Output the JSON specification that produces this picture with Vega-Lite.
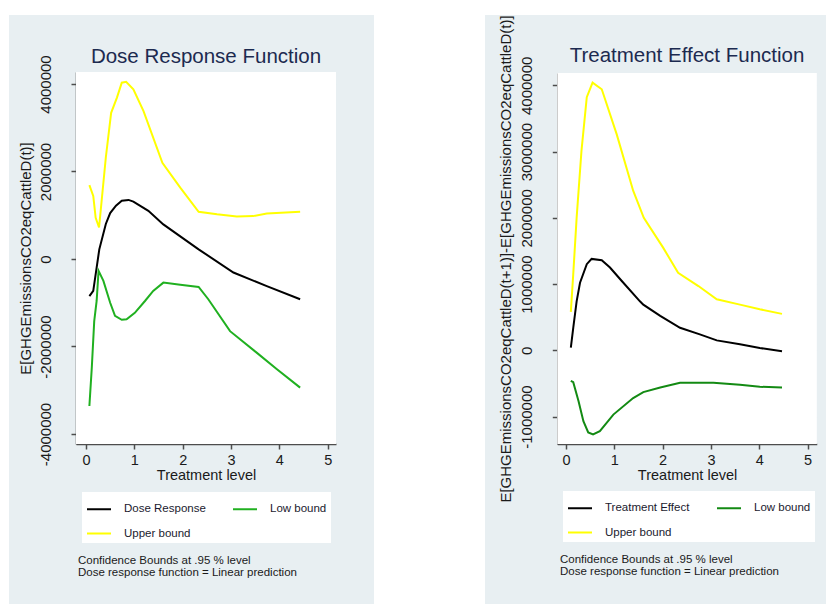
{
  "$schema": "https://vega.github.io/schema/vega-lite/v6.json",
  "padding": {"left": 9, "top": 14, "right": 0, "bottom": 0},
  "bounds": "flush",
  "spacing": 111,
  "background": "white",
  "config": {
    "font": "Liberation Sans",
    "view": {"stroke": null},
    "axis": {
      "zindex": 1,
      "domainColor": "#4d4d4d",
      "domainWidth": 1.5,
      "tickColor": "#4d4d4d",
      "tickWidth": 1.5,
      "tickSize": 5,
      "labelColor": "#1a1a1a",
      "labelFont": "Liberation Sans",
      "labelFontSize": 15,
      "labelFlush": false,
      "labelOverlap": false,
      "titleFont": "Liberation Sans",
      "titleFontWeight": "normal",
      "titleColor": "#1a1a1a",
      "gridColor": "#e4eef0",
      "gridWidth": 1
    },
    "legend": {
      "orient": "none",
      "direction": "horizontal",
      "columns": 2,
      "fillColor": "white",
      "padding": 4,
      "symbolType": "stroke",
      "symbolSize": 576,
      "symbolStrokeWidth": 2,
      "labelFont": "Liberation Sans",
      "labelFontSize": 11.5,
      "labelColor": "#1a1a2e",
      "labelOffset": 12,
      "columnPadding": 23,
      "rowPadding": 5.5
    }
  },
  "resolve": {
    "scale": {"color": "independent", "x": "independent", "y": "independent"},
    "legend": {"color": "independent"},
    "axis": {"x": "independent", "y": "independent"}
  },
  "datasets": {
    "dose": [
      {"t": 0.07, "v": -850000, "s": "Dose Response"},
      {"t": 0.15, "v": -730000, "s": "Dose Response"},
      {"t": 0.275, "v": 220000, "s": "Dose Response"},
      {"t": 0.41, "v": 800000, "s": "Dose Response"},
      {"t": 0.5, "v": 1050000, "s": "Dose Response"},
      {"t": 0.62, "v": 1220000, "s": "Dose Response"},
      {"t": 0.74, "v": 1330000, "s": "Dose Response"},
      {"t": 0.88, "v": 1350000, "s": "Dose Response"},
      {"t": 0.98, "v": 1310000, "s": "Dose Response"},
      {"t": 1.29, "v": 1100000, "s": "Dose Response"},
      {"t": 1.6, "v": 790000, "s": "Dose Response"},
      {"t": 2.33, "v": 220000, "s": "Dose Response"},
      {"t": 3.05, "v": -310000, "s": "Dose Response"},
      {"t": 3.74, "v": -620000, "s": "Dose Response"},
      {"t": 4.43, "v": -920000, "s": "Dose Response"},
      {"t": 0.07, "v": 1690000, "s": "Upper bound"},
      {"t": 0.15, "v": 1440000, "s": "Upper bound"},
      {"t": 0.2, "v": 940000, "s": "Upper bound"},
      {"t": 0.27, "v": 720000, "s": "Upper bound"},
      {"t": 0.41, "v": 2320000, "s": "Upper bound"},
      {"t": 0.52, "v": 3340000, "s": "Upper bound"},
      {"t": 0.64, "v": 3690000, "s": "Upper bound"},
      {"t": 0.74, "v": 4030000, "s": "Upper bound"},
      {"t": 0.83, "v": 4050000, "s": "Upper bound"},
      {"t": 0.98, "v": 3880000, "s": "Upper bound"},
      {"t": 1.19, "v": 3380000, "s": "Upper bound"},
      {"t": 1.58, "v": 2200000, "s": "Upper bound"},
      {"t": 1.95, "v": 1630000, "s": "Upper bound"},
      {"t": 2.33, "v": 1080000, "s": "Upper bound"},
      {"t": 2.71, "v": 1020000, "s": "Upper bound"},
      {"t": 3.12, "v": 970000, "s": "Upper bound"},
      {"t": 3.46, "v": 980000, "s": "Upper bound"},
      {"t": 3.74, "v": 1040000, "s": "Upper bound"},
      {"t": 4.43, "v": 1080000, "s": "Upper bound"},
      {"t": 0.07, "v": -3360000, "s": "Low bound"},
      {"t": 0.12, "v": -2480000, "s": "Low bound"},
      {"t": 0.17, "v": -1420000, "s": "Low bound"},
      {"t": 0.22, "v": -960000, "s": "Low bound"},
      {"t": 0.26, "v": -270000, "s": "Low bound"},
      {"t": 0.36, "v": -500000, "s": "Low bound"},
      {"t": 0.5, "v": -1000000, "s": "Low bound"},
      {"t": 0.6, "v": -1300000, "s": "Low bound"},
      {"t": 0.74, "v": -1390000, "s": "Low bound"},
      {"t": 0.84, "v": -1380000, "s": "Low bound"},
      {"t": 1.01, "v": -1230000, "s": "Low bound"},
      {"t": 1.22, "v": -960000, "s": "Low bound"},
      {"t": 1.39, "v": -730000, "s": "Low bound"},
      {"t": 1.6, "v": -540000, "s": "Low bound"},
      {"t": 1.95, "v": -590000, "s": "Low bound"},
      {"t": 2.33, "v": -640000, "s": "Low bound"},
      {"t": 2.53, "v": -920000, "s": "Low bound"},
      {"t": 2.98, "v": -1650000, "s": "Low bound"},
      {"t": 3.53, "v": -2140000, "s": "Low bound"},
      {"t": 3.95, "v": -2520000, "s": "Low bound"},
      {"t": 4.43, "v": -2940000, "s": "Low bound"}
    ],
    "te": [
      {"t": 0.1, "v": 40000, "s": "Treatment Effect"},
      {"t": 0.15, "v": 340000, "s": "Treatment Effect"},
      {"t": 0.22, "v": 740000, "s": "Treatment Effect"},
      {"t": 0.29, "v": 1020000, "s": "Treatment Effect"},
      {"t": 0.43, "v": 1300000, "s": "Treatment Effect"},
      {"t": 0.53, "v": 1380000, "s": "Treatment Effect"},
      {"t": 0.74, "v": 1360000, "s": "Treatment Effect"},
      {"t": 0.91, "v": 1250000, "s": "Treatment Effect"},
      {"t": 1.15, "v": 1050000, "s": "Treatment Effect"},
      {"t": 1.53, "v": 740000, "s": "Treatment Effect"},
      {"t": 1.6, "v": 690000, "s": "Treatment Effect"},
      {"t": 1.95, "v": 520000, "s": "Treatment Effect"},
      {"t": 2.36, "v": 340000, "s": "Treatment Effect"},
      {"t": 2.77, "v": 240000, "s": "Treatment Effect"},
      {"t": 3.12, "v": 150000, "s": "Treatment Effect"},
      {"t": 3.6, "v": 90000, "s": "Treatment Effect"},
      {"t": 4.01, "v": 35000, "s": "Treatment Effect"},
      {"t": 4.47, "v": -15000, "s": "Treatment Effect"},
      {"t": 0.1, "v": 580000, "s": "Upper bound"},
      {"t": 0.15, "v": 1150000, "s": "Upper bound"},
      {"t": 0.22, "v": 2000000, "s": "Upper bound"},
      {"t": 0.32, "v": 3010000, "s": "Upper bound"},
      {"t": 0.43, "v": 3820000, "s": "Upper bound"},
      {"t": 0.55, "v": 4040000, "s": "Upper bound"},
      {"t": 0.74, "v": 3940000, "s": "Upper bound"},
      {"t": 1.05, "v": 3260000, "s": "Upper bound"},
      {"t": 1.39, "v": 2410000, "s": "Upper bound"},
      {"t": 1.61, "v": 2000000, "s": "Upper bound"},
      {"t": 2.01, "v": 1550000, "s": "Upper bound"},
      {"t": 2.32, "v": 1170000, "s": "Upper bound"},
      {"t": 2.74, "v": 970000, "s": "Upper bound"},
      {"t": 3.12, "v": 770000, "s": "Upper bound"},
      {"t": 3.6, "v": 690000, "s": "Upper bound"},
      {"t": 4.01, "v": 620000, "s": "Upper bound"},
      {"t": 4.47, "v": 550000, "s": "Upper bound"},
      {"t": 0.1, "v": -460000, "s": "Low bound"},
      {"t": 0.15, "v": -480000, "s": "Low bound"},
      {"t": 0.26, "v": -770000, "s": "Low bound"},
      {"t": 0.36, "v": -1070000, "s": "Low bound"},
      {"t": 0.46, "v": -1240000, "s": "Low bound"},
      {"t": 0.56, "v": -1270000, "s": "Low bound"},
      {"t": 0.7, "v": -1220000, "s": "Low bound"},
      {"t": 0.98, "v": -970000, "s": "Low bound"},
      {"t": 1.39, "v": -720000, "s": "Low bound"},
      {"t": 1.6, "v": -630000, "s": "Low bound"},
      {"t": 1.95, "v": -560000, "s": "Low bound"},
      {"t": 2.36, "v": -490000, "s": "Low bound"},
      {"t": 3.05, "v": -490000, "s": "Low bound"},
      {"t": 3.6, "v": -520000, "s": "Low bound"},
      {"t": 4.01, "v": -550000, "s": "Low bound"},
      {"t": 4.47, "v": -560000, "s": "Low bound"}
    ]
  },
  "hconcat": [
    {
      "width": 365,
      "height": 589,
      "view": {"fill": "#e8eff2", "stroke": null},
      "title": {
        "text": "Dose Response Function",
        "anchor": "middle",
        "frame": "group",
        "baseline": "alphabetic",
        "offset": -68,
        "dx": 14.5,
        "fontSize": 20.5,
        "fontWeight": "normal",
        "font": "Liberation Sans",
        "color": "#1c2a50"
      },
      "layer": [
        {
          "data": {"values": [{}]},
          "mark": {"type": "rect", "color": "white"},
          "encoding": {
            "x": {
              "datum": -0.207,
              "type": "quantitative",
              "scale": {"domain": [-0.207, 5.172], "range": [67, 327], "nice": false, "zero": false},
              "axis": {
                "orient": "bottom",
                "offset": -160,
                "values": [0, 1, 2, 3, 4, 5],
                "labelExpr": "'' + datum.value",
                "grid": false,
                "labelPadding": 4,
                "labelFontSize": 14.5,
                "title": "Treatment level",
                "titleFontSize": 14.5,
                "titlePadding": 2
              }
            },
            "x2": {"datum": 5.172},
            "y": {
              "datum": -4229000,
              "type": "quantitative",
              "scale": {"domain": [-4229000, 4274000], "range": [429, 57], "nice": false, "zero": false},
              "axis": {
                "orient": "left",
                "offset": -67,
                "values": [-4000000, -2000000, 0, 2000000, 4000000],
                "grid": true,
                "labelAngle": 270,
                "labelAlign": "center",
                "labelBaseline": "bottom",
                "labelPadding": 18,
                "labelExpr": "'' + datum.value",
                "title": "E[GHGEmissionsCO2eqCattleD(t)]",
                "titleFontSize": 15,
                "titleAngle": 270,
                "titleBaseline": "middle",
                "titleX": -51
              }
            },
            "y2": {"datum": 4274000}
          }
        },
        {
          "data": {"name": "dose"},
          "mark": {"type": "line", "strokeWidth": 2},
          "encoding": {
            "x": {"field": "t", "type": "quantitative"},
            "y": {"field": "v", "type": "quantitative"},
            "color": {
              "field": "s",
              "type": "nominal",
              "scale": {"domain": ["Dose Response", "Low bound", "Upper bound"], "range": ["#000000", "#20b020", "#ffff00"]},
              "legend": {"title": null, "legendX": 73, "legendY": 477}
            }
          }
        },
        {
          "data": {"values": [{"note": "Confidence Bounds at .95 % level\nDose response function = Linear prediction"}]},
          "mark": {"type": "text", "align": "left", "baseline": "alphabetic", "lineBreak": "\n", "fontSize": 11.5, "lineHeight": 12.5, "color": "#1a1a1a", "font": "Liberation Sans"},
          "encoding": {
            "x": {"datum": -0.166, "type": "quantitative"},
            "y": {"datum": -6965000, "type": "quantitative"},
            "text": {"field": "note"}
          }
        }
      ]
    },
    {
      "width": 341,
      "height": 589,
      "view": {"fill": "#e8eff2", "stroke": null},
      "title": {
        "text": "Treatment Effect Function",
        "anchor": "middle",
        "frame": "group",
        "baseline": "alphabetic",
        "offset": -68,
        "dx": 31.5,
        "fontSize": 20.5,
        "fontWeight": "normal",
        "font": "Liberation Sans",
        "color": "#1c2a50"
      },
      "layer": [
        {
          "data": {"values": [{}]},
          "mark": {"type": "rect", "color": "white"},
          "encoding": {
            "x": {
              "datum": -0.18,
              "type": "quantitative",
              "scale": {"domain": [-0.18, 5.19], "range": [72.3, 331.8], "nice": false, "zero": false},
              "axis": {
                "orient": "bottom",
                "offset": -160,
                "values": [0, 1, 2, 3, 4, 5],
                "labelExpr": "'' + datum.value",
                "grid": false,
                "labelPadding": 4,
                "labelFontSize": 14.5,
                "title": "Treatment level",
                "titleFontSize": 14.5,
                "titlePadding": 2
              }
            },
            "x2": {"datum": 5.19},
            "y": {
              "datum": -1414000,
              "type": "quantitative",
              "scale": {"domain": [-1414000, 4186000], "range": [429, 58], "nice": false, "zero": false},
              "axis": {
                "orient": "left",
                "offset": -72.3,
                "values": [-1000000, 0, 1000000, 2000000, 3000000, 4000000],
                "grid": true,
                "labelAngle": 270,
                "labelAlign": "center",
                "labelBaseline": "bottom",
                "labelPadding": 18,
                "labelExpr": "'' + datum.value",
                "title": "E[GHGEmissionsCO2eqCattleD(t+1)]-E[GHGEmissionsCO2eqCattleD(t)]",
                "titleFontSize": 15,
                "titleAngle": 270,
                "titleBaseline": "middle",
                "titleX": -52
              }
            },
            "y2": {"datum": 4186000}
          }
        },
        {
          "data": {"name": "te"},
          "mark": {"type": "line", "strokeWidth": 2},
          "encoding": {
            "x": {"field": "t", "type": "quantitative"},
            "y": {"field": "v", "type": "quantitative"},
            "color": {
              "field": "s",
              "type": "nominal",
              "scale": {"domain": ["Treatment Effect", "Low bound", "Upper bound"], "range": ["#000000", "#138a13", "#ffff00"]},
              "legend": {"title": null, "legendX": 78, "legendY": 476}
            }
          }
        },
        {
          "data": {"values": [{"note": "Confidence Bounds at .95 % level\nDose response function = Linear prediction"}]},
          "mark": {"type": "text", "align": "left", "baseline": "alphabetic", "lineBreak": "\n", "fontSize": 11.5, "lineHeight": 12.5, "color": "#1a1a1a", "font": "Liberation Sans"},
          "encoding": {
            "x": {"datum": -0.124, "type": "quantitative"},
            "y": {"datum": -3206000, "type": "quantitative"},
            "text": {"field": "note"}
          }
        }
      ]
    }
  ]
}
